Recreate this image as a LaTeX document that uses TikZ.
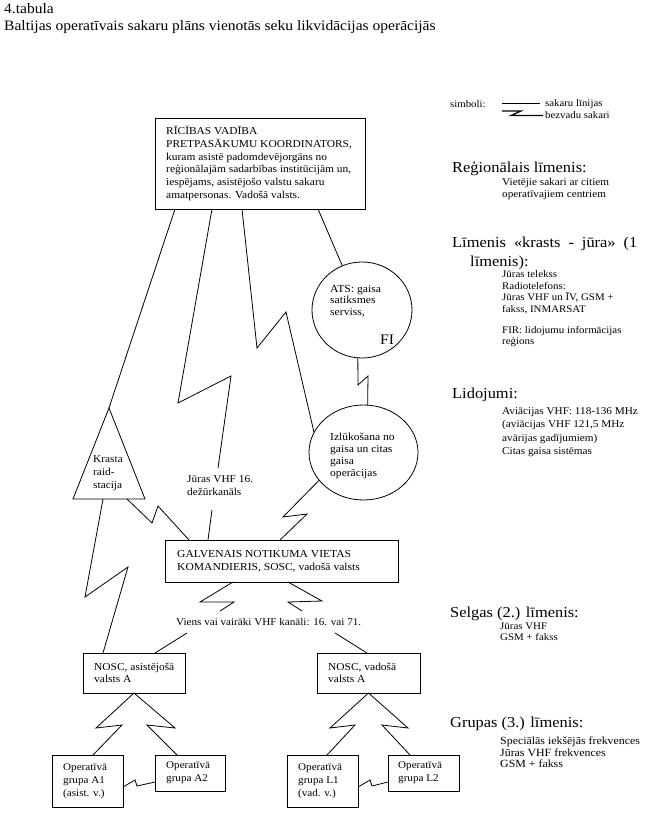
\documentclass[tikz,border=0pt]{standalone}
\usepackage{fontspec}
\setmainfont{Liberation Serif}[FakeStretch=1.08]
\usetikzlibrary{calc,shapes.geometric}
\begin{document}
\begin{tikzpicture}[x=1pt,y=-1pt,
  lnk/.style={line width=0.8pt},
  boxframe/.style={draw,line width=0.8pt,anchor=north west,inner sep=0pt,outer sep=0pt},
  boxtxt/.style={anchor=west,align=left,inner sep=0pt,font=\fontsize{10.6}{12.9}\selectfont},
  smallbox/.style={anchor=west,align=left,inner sep=0pt,font=\fontsize{10.3}{12.8}\selectfont},
  oval/.style={draw,ellipse,line width=0.8pt,inner sep=0pt,outer sep=0pt},
  txt/.style={anchor=north west,align=left,inner sep=0pt,font=\fontsize{10.1}{11.5}\selectfont},
  hdg/.style={anchor=base west,inner sep=0pt,font=\fontsize{15.2}{19}\selectfont},
  one/.style={anchor=base west,inner sep=0pt,font=\fontsize{10.3}{13}\selectfont},
  leg/.style={anchor=base west,inner sep=0pt,font=\fontsize{10}{12}\selectfont}
  ]
\useasboundingbox (0,0) rectangle (645,814);
\fill[white] (0,0) rectangle (645,814);
\clip (0,0) rectangle (645,814);

% title
\node[anchor=base west,inner sep=0pt,font=\fontsize{14.4}{17}\selectfont] (ttl1) at (4,13.5) {4.tabula};
\node[anchor=base west,inner sep=0pt,font=\fontsize{14.4}{17}\selectfont] (ttl2) at (4,30.5) {Baltijas operatīvais sakaru plāns vienotās seku likvidācijas operācijās};

% top box
\node[boxframe,minimum width=210pt,minimum height=91pt] (T) at (155,118) {};
\node[boxtxt] (Tt) at ([xshift=11pt]T.west) {RĪCĪBAS VADĪBA\\PRETPASĀKUMU KOORDINATORS,\\kuram asistē padomdevējorgāns no\\reģionālajām sadarbības institūcijām un,\\iespējams, asistējošo valstu sakaru\\amatpersonas. Vadošā valsts.};

% ATS ellipse
\node[oval,minimum width=100pt,minimum height=96pt] (ATS) at (362,310) {};
\node[txt,font=\fontsize{10.8}{11.5}\selectfont] (ATSt) at (330,285) {ATS: gaisa\\satiksmes\\serviss,};
\node[anchor=base west,inner sep=0pt,font=\fontsize{14.5}{17}\selectfont] (FI) at (380,344.5) {FI};

% Izlukosana ellipse
\node[oval,minimum width=109pt,minimum height=95pt] (Izl) at (363.5,452.5) {};
\node[txt,font=\fontsize{10.7}{12}\selectfont] (Izlt) at (330,433) {Izlūkošana no\\gaisa un citas\\gaisa\\operācijas};

% triangle
\coordinate (ta) at (109,408);
\coordinate (tl) at (73,499);
\coordinate (tr) at (145,499);
\draw[lnk] (ta) -- (tl) -- (tr) -- cycle;
\node[txt,font=\fontsize{10.5}{13}\selectfont] (Kt) at (93,455) {Krasta\\raid-\\stacija};

% label Juras VHF
\node[txt,font=\fontsize{10.5}{13.5}\selectfont] (J) at (187,475) {Jūras VHF 16.\\dežūrkanāls};
\coordinate (jt) at (218,468);
\coordinate (jb) at (212,510);

% main box
\node[boxframe,minimum width=233pt,minimum height=42pt] (G) at (165,540) {};
\node[boxtxt,font=\fontsize{10.7}{13}\selectfont] (Gt) at ([xshift=12pt]G.west) {GALVENAIS NOTIKUMA VIETAS\\KOMANDIERIS, SOSC, vadošā valsts};

% VHF label
\node[one] (V) at (176,625.5) {Viens vai vairāki VHF kanāli: 16. vai 71.};
\coordinate (v1) at (220,611);
\coordinate (v2) at (302,611);
\coordinate (v3) at (187,633);
\coordinate (v4) at (335,633);

% NOSC boxes
\node[boxframe,minimum width=102pt,minimum height=40pt] (NA) at (83,653) {};
\node[smallbox,font=\fontsize{10.6}{12.6}\selectfont] (NAt) at ([xshift=11pt]NA.west) {NOSC, asistējošā\\valsts A};
\node[boxframe,minimum width=103pt,minimum height=40pt] (NB) at (317,653) {};
\node[smallbox,font=\fontsize{10.6}{12.6}\selectfont] (NBt) at ([xshift=11pt]NB.west) {NOSC, vadošā\\valsts A};

% group boxes
\node[boxframe,minimum width=71pt,minimum height=52pt] (A1) at (52,755) {};
\node[smallbox] (A1t) at ([xshift=11pt]A1.west) {Operatīvā\\grupa A1\\(asist. v.)};
\node[boxframe,minimum width=70pt,minimum height=36pt] (A2) at (155,755) {};
\node[smallbox] (A2t) at ([xshift=11pt]A2.west) {Operatīvā\\grupa A2};
\node[boxframe,minimum width=71pt,minimum height=52pt] (L1) at (287,755) {};
\node[smallbox] (L1t) at ([xshift=11pt]L1.west) {Operatīvā\\grupa L1\\(vad. v.)};
\node[boxframe,minimum width=71pt,minimum height=36pt] (L2) at (388,755) {};
\node[smallbox] (L2t) at ([xshift=10pt]L2.west) {Operatīvā\\grupa L2};

% connectors
\draw[lnk] (175,0 |- T.south) -- (ta);
\draw[lnk] (212,0 |- T.south) -- (178,403) -- (231,376) -- (jt);
\draw[lnk] (jb) -- (208,0 |- G.north);
\draw[lnk] (242,0 |- T.south) -- (257,348) -- (286,312) -- (Izl.158);
\draw[lnk] (318,0 |- T.south) -- (ATS.114);
\draw[lnk] (ATS.265) -- (358,385) -- (368,376) -- (Izl.85);
\draw[lnk] (Izl.212) -- (283,517) -- (307,514) -- (280,0 |- G.north);
\draw[lnk] ($(tl)!0.75!(tr)$) -- (152,523) -- (158,506) -- (189,0 |- G.north);
\draw[lnk] ($(tl)!0.4167!(tr)$) -- (85,597) -- (128,567) -- (103,0 |- NA.north);
\draw[lnk] (233,0 |- G.south) -- (200,602) -- (234,602) -- (v1);
\draw[lnk] (288,0 |- G.south) -- (322,601) -- (288,602) -- (v2);
\draw[lnk] (v3) -- (155,0 |- NA.north);
\draw[lnk] (v4) -- (367,0 |- NB.north);
\draw[lnk] (NA.south) -- (96,728) -- (122,725) -- (93,0 |- A1.north);
\draw[lnk] (NA.south) -- (175,728) -- (147,725) -- (177,0 |- A2.north);
\draw[lnk] (NB.south) -- (330,728) -- (355,725) -- (327,0 |- L1.north);
\draw[lnk] (NB.south) -- (408,728) -- (382,725) -- (410,0 |- L2.north);
\draw[lnk] (0,787 -| A1.east) -- (135,780) -- (137,786) -- (0,782 -| A2.west);
\draw[lnk] (0,787 -| L1.east) -- (370,780) -- (372,786) -- (0,782 -| L2.west);

% legend
\node[leg] (sym) at (450,107.5) {simboli:};
\node[leg] (lg1) at (545,106) {sakaru līnijas};
\node[leg] (lg2) at (545,118) {bezvadu sakari};
\coordinate (s1a) at (502,103.5);
\coordinate (s1b) at (540,103.5);
\draw[line width=1.2pt] (s1a) -- (s1b);
\coordinate (s2a) at (502,111);
\coordinate (s2b) at (543,115.5);
\draw[line width=1.2pt] (s2a) -- (521,111) -- (511,115.5) -- (s2b);

% right column
\node[hdg] (h1) at (452,172) {Reģionālais līmenis:};
\node[txt,font=\fontsize{10.4}{11.5}\selectfont] (h1t) at (502,178.5) {Vietējie sakari ar citiem\\operatīvajiem centriem};
\node[hdg] (h2) at (452,247) {\spaceskip=8pt Līmenis «krasts - jūra» (1};
\node[hdg] (h2b) at (470,266) {līmenis):};
\node[txt] (h2t) at (502,270.5) {Jūras telekss\\Radiotelefons:\\Jūras VHF un ĪV, GSM +\\fakss, INMARSAT};
\node[txt] (h2f) at (502,326) {FIR: lidojumu informācijas\\reģions};
\node[hdg] (h3) at (452,398) {Lidojumi:};
\node[txt,font=\fontsize{10.4}{13.3}\selectfont] (h3t) at (502,407.5) {Aviācijas VHF: 118-136 MHz\\(aviācijas VHF 121,5 MHz\\avārijas gadījumiem)\\Citas gaisa sistēmas};
\node[hdg] (h4) at (450,617) {Selgas (2.) līmenis:};
\node[txt] (h4t) at (500,622.5) {Jūras VHF\\GSM + fakss};
\node[hdg] (h5) at (450,727) {Grupas (3.) līmenis:};
\node[txt,font=\fontsize{11}{11.3}\selectfont] (h5t) at (500,737) {Speciālās iekšējās frekvences\\Jūras VHF frekvences\\GSM + fakss};
\end{tikzpicture}
\end{document}
